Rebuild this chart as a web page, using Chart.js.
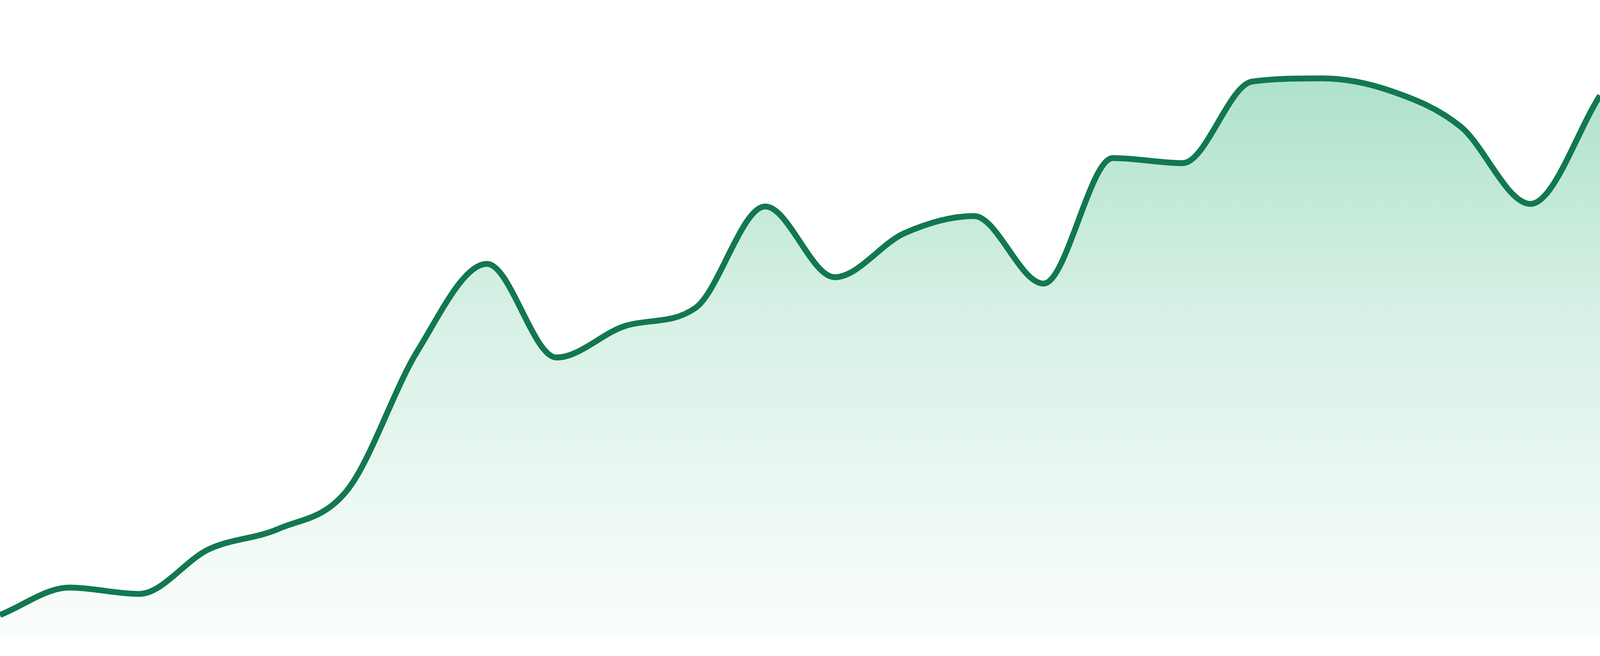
<!DOCTYPE html>
<html>
<head>
<meta charset="utf-8">
<script src="https://cdn.jsdelivr.net/npm/chart.js@4.4.1/dist/chart.umd.min.js"></script>
<style>
  html, body { margin: 0; padding: 0; background: #ffffff; overflow: hidden; }
  #wrap { position: relative; width: 100vw; height: 100vh; }
</style>
</head>
<body>
<div id="wrap"><canvas id="chart"></canvas></div>
<script>
// 24 evenly spaced samples (y axis 0..100)
const labels = [
  "1", "2", "3", "4", "5", "6", "7", "8", "9", "10", "11", "12",
  "13", "14", "15", "16", "17", "18", "19", "20", "21", "22", "23", "24",
];
const values = [
  3.5, 7.8, 6.8, 13.8, 17.0, 23.2, 44.9, 58.6, 43.9, 48.9, 51.7, 67.6,
  56.5, 63.4, 66.1, 55.5, 75.2, 74.4, 87.2, 87.7, 85.7, 80.1, 68.0, 85.0,
];
const yMin = 0;
const yMax = 100;

const LINE = "#12784f";

// vertical fade, recomputed against the chart area on each draw
function areaGradient(ctx) {
  const area = ctx.chart.chartArea;
  if (!area) return "rgba(20, 170, 105, 0.3)";
  const g = ctx.chart.ctx.createLinearGradient(0, area.top, 0, area.bottom);
  g.addColorStop(0, "rgba(20, 170, 105, 0.40)");
  g.addColorStop(0.5, "rgba(20, 170, 105, 0.17)");
  g.addColorStop(1, "rgba(20, 170, 105, 0.02)");
  return g;
}

// fills the window; the chart has no axes, so it just stretches
new Chart(document.getElementById("chart"), {
  type: "line",
  data: {
    labels,
    datasets: [
      {
        data: values,
        borderColor: LINE,
        backgroundColor: areaGradient,
        borderWidth: 15,
        pointRadius: 0,
        cubicInterpolationMode: "monotone",
        fill: "origin",
      },
    ],
  },
  options: {
    responsive: true,
    maintainAspectRatio: false,
    animation: false,
    layout: { padding: { top: 0, right: 0, bottom: 48, left: 0 } },
    scales: {
      x: { display: false },
      y: { display: false, min: yMin, max: yMax },
    },
    plugins: {
      legend: { display: false },
      tooltip: { enabled: false },
    },
  },
});
</script>
</body>
</html>
